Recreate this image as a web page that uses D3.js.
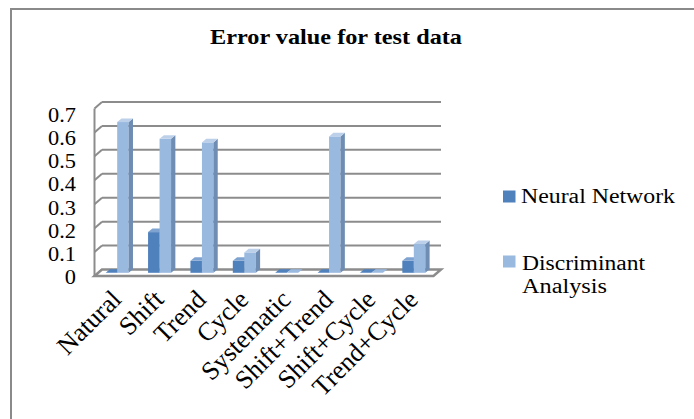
<!DOCTYPE html>
<html>
<head>
<meta charset="utf-8">
<script src="https://cdn.jsdelivr.net/npm/d3@7"></script>
<style>
  body { margin: 0; background: #fff; overflow: hidden; }
  text { font-family: "Liberation Serif", "Times New Roman", serif; fill: #000; }
</style>
</head>
<body>
<div id="visualization"></div>
<script>
const categories = ["Natural", "Shift", "Trend", "Cycle", "Systematic", "Shift+Trend", "Shift+Cycle", "Trend+Cycle"];
const neuralNetwork = [0, 0.17, 0.05, 0.05, 0, 0, 0, 0.05];
const discriminant = [0.63, 0.56, 0.545, 0.085, 0, 0.57, 0, 0.12];
const yTicks = [0, 0.1, 0.2, 0.3, 0.4, 0.5, 0.6, 0.7];

const width = 694;
const height = 419;

// 3d look: back wall is shifted from the front plane by this much
const depth = { dx: 7.5, dy: -6.5 };
const frontLeft = 94.5;
const frontRight = 433.5;

const svg = d3
  .select("#visualization")
  .append("svg")
  .attr("width", width)
  .attr("height", height);

// outer chart border (runs off the right and bottom edge)
svg
  .append("rect")
  .attr("x", 11)
  .attr("y", 9)
  .attr("width", 760)
  .attr("height", 500)
  .attr("fill", "none")
  .attr("stroke", "#8a8a8a")
  .attr("stroke-width", 2);

const x = d3.scaleBand().domain(categories).range([frontLeft, frontRight]);
const yFront = d3.scaleLinear().domain([0, 0.7]).range([276, 108.5]);
const yBack = (v) => yFront(v) + depth.dy;
const yLabel = d3.scaleLinear().domain([0, 0.7]).range([277, 115]);

// Gridlines on back wall + left wall
const grid = svg.append("g").attr("stroke", "#8c8c8c").attr("stroke-width", 2).attr("fill", "none");
yTicks.forEach((t) => {
  if (t > 0) {
    grid
      .append("line")
      .attr("x1", frontLeft + depth.dx)
      .attr("x2", frontRight + depth.dx)
      .attr("y1", yBack(t))
      .attr("y2", yBack(t));
  }
  grid
    .append("line")
    .attr("x1", frontLeft)
    .attr("y1", yFront(t))
    .attr("x2", frontLeft + depth.dx)
    .attr("y2", yBack(t));
});
grid
  .append("line")
  .attr("x1", frontLeft)
  .attr("x2", frontLeft)
  .attr("y1", yFront(0))
  .attr("y2", yFront(0.7));

// Floor
svg
  .append("polygon")
  .attr(
    "points",
    [
      [frontLeft, yFront(0)],
      [frontRight, yFront(0)],
      [frontRight + depth.dx, yBack(0)],
      [frontLeft + depth.dx, yBack(0)],
    ].join(" ")
  )
  .attr("fill", "#fff")
  .attr("stroke", "#8c8c8c")
  .attr("stroke-width", 2.5);

// Bars
const barW = 11.5;
const bd = { dx: 4.3, dy: -3.6 };
const mid = { dx: 1.5, dy: -3.2 };

const series = [
  { name: "Neural Network", values: neuralNetwork, front: "#4f81bd", side: "#3a6394", top: "#7fa3d0", off: -barW },
  { name: "Discriminant Analysis", values: discriminant, front: "#99b9df", side: "#6f8db3", top: "#bcd0ea", off: 0 },
];

const bars = svg.append("g");
categories.forEach((c, i) => {
  series.forEach((s) => {
    const v = s.values[i];
    const x0 = x(c) + x.bandwidth() / 2 + mid.dx + s.off;
    const x1 = x0 + barW;
    const yb = yFront(0) + mid.dy;
    const yt = yFront(v) + mid.dy;
    const g = bars.append("g");
    if (v > 0) {
      g.append("rect")
        .attr("x", x0)
        .attr("y", yt)
        .attr("width", barW)
        .attr("height", yb - yt)
        .attr("fill", s.front);
      g.append("polygon")
        .attr("points", [[x1, yt], [x1 + bd.dx, yt + bd.dy], [x1 + bd.dx, yb + bd.dy], [x1, yb]].join(" "))
        .attr("fill", s.side);
    }
    g.append("polygon")
      .attr("points", [[x0, yt], [x1, yt], [x1 + bd.dx, yt + bd.dy], [x0 + bd.dx, yt + bd.dy]].join(" "))
      .attr("fill", v > 0 ? s.top : s.front);
  });
});

// Y tick labels
svg
  .append("g")
  .selectAll("text")
  .data(yTicks)
  .enter()
  .append("text")
  .attr("transform", (d) => `translate(76,${yLabel(d)}) scale(1.12,1)`)
  .attr("dy", "0.35em")
  .attr("text-anchor", "end")
  .attr("font-size", "20px")
  .text((d) => d3.format("")(d));

// Category labels
svg
  .append("g")
  .selectAll("text")
  .data(categories)
  .enter()
  .append("text")
  .attr("transform", (d) => `translate(${x(d) + x.bandwidth() / 2 + 7},${301}) rotate(-45)`)
  .attr("text-anchor", "end")
  .attr("font-size", "26px")
  .text((d) => d);

// Legend
const legend = svg.append("g");
legend.append("rect").attr("x", 503).attr("y", 190.5).attr("width", 12.5).attr("height", 12).attr("fill", series[0].front);
legend.append("rect").attr("x", 503).attr("y", 255.5).attr("width", 12.5).attr("height", 12).attr("fill", series[1].front);
legend
  .append("text")
  .attr("x", 521)
  .attr("y", 203)
  .attr("font-size", "20px")
  .attr("textLength", 154)
  .attr("lengthAdjust", "spacingAndGlyphs")
  .text("Neural Network");
legend
  .append("text")
  .attr("x", 522)
  .attr("y", 270)
  .attr("font-size", "20px")
  .attr("textLength", 123)
  .attr("lengthAdjust", "spacingAndGlyphs")
  .text("Discriminant");
legend
  .append("text")
  .attr("x", 522)
  .attr("y", 293)
  .attr("font-size", "20px")
  .attr("textLength", 85)
  .attr("lengthAdjust", "spacingAndGlyphs")
  .text("Analysis");

// Chart Title
svg
  .append("text")
  .attr("x", 210)
  .attr("y", 43.5)
  .attr("font-size", "21px")
  .attr("font-weight", "bold")
  .attr("textLength", 252)
  .attr("lengthAdjust", "spacingAndGlyphs")
  .text("Error value for test data");
</script>
</body>
</html>
